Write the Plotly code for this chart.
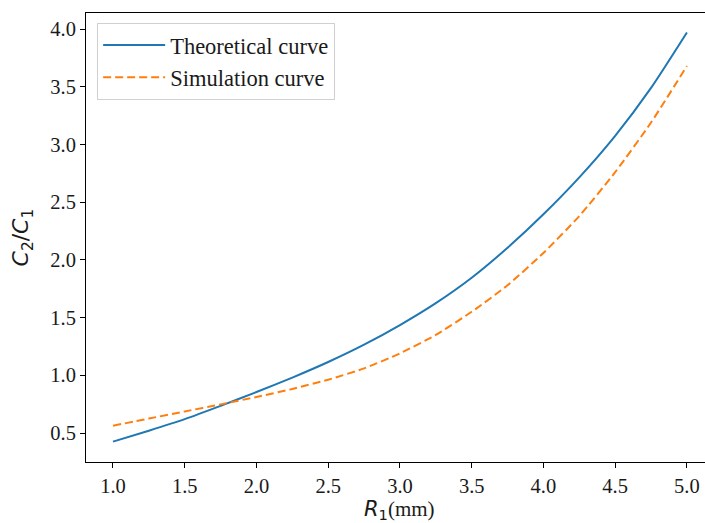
import plotly.graph_objects as go

# Data
r1_mm = [1.0, 1.25, 1.5, 1.75, 2.0, 2.25, 2.5, 2.75, 3.0, 3.25, 3.5, 3.75, 4.0, 4.25, 4.5, 4.75, 5.0]
theoretical = [0.425, 0.52, 0.62, 0.735, 0.855, 0.98, 1.115, 1.265, 1.435, 1.625, 1.845, 2.105, 2.395, 2.715, 3.075, 3.49, 3.97]
simulation = [0.563, 0.625, 0.687, 0.748, 0.812, 0.882, 0.962, 1.06, 1.19, 1.35, 1.55, 1.78, 2.06, 2.38, 2.76, 3.19, 3.68]
x_ticks = [1.0, 1.5, 2.0, 2.5, 3.0, 3.5, 4.0, 4.5, 5.0]
y_ticks = [0.5, 1.0, 1.5, 2.0, 2.5, 3.0, 3.5, 4.0]
x_label = "<span style='font-family:DejaVu Sans;font-style:italic'>R</span><sub><span style='font-family:DejaVu Sans'>1</span></sub>(mm)"
y_label = "<i>C</i><sub>2</sub>/<i>C</i><sub>1</sub>"

SERIF = "Liberation Serif, Times New Roman, serif"
SANS = "DejaVu Sans, sans-serif"

fig = go.Figure()
fig.add_trace(go.Scatter(
    x=r1_mm, y=theoretical, mode="lines", name="Theoretical curve",
    line=dict(color="#1f77b4", width=2, shape="spline", smoothing=0.6),
))
fig.add_trace(go.Scatter(
    x=r1_mm, y=simulation, mode="lines", name="Simulation curve",
    line=dict(color="#ff7f0e", width=2, dash="8px,4px", shape="spline", smoothing=0.6),
))

fig.update_layout(
    width=705, height=523,
    margin=dict(l=86, r=0, t=13, b=61),
    paper_bgcolor="white", plot_bgcolor="white",
    font=dict(family=SERIF, size=20, color="black"),
    showlegend=True,
    legend=dict(
        x=0.018, y=0.978, xanchor="left", yanchor="top",
        bgcolor="white", bordercolor="#d0d0d0", borderwidth=1,
        font=dict(family=SERIF, size=22.5, color="#1a1a1a"),
        itemwidth=62, tracegroupgap=0,
    ),
    annotations=[
        dict(text=x_label, xref="paper", yref="paper", x=0.507, y=-0.107,
             xanchor="center", yanchor="middle", showarrow=False,
             font=dict(family=SERIF, size=21, color="#1a1a1a")),
        dict(text=y_label, xref="paper", yref="paper", x=-0.1018, y=0.5,
             xanchor="center", yanchor="middle", showarrow=False, textangle=-90,
             font=dict(family=SANS, size=22, color="#1a1a1a")),
    ],
)

fig.update_xaxes(
    range=[0.812, 5.126], tickvals=x_ticks, ticktext=[f"{v:.1f}" for v in x_ticks],
    showgrid=False, zeroline=False, showline=True, linecolor="black", linewidth=1,
    mirror=True, ticks="outside", ticklen=5, tickwidth=1, tickcolor="black",
    tickfont=dict(family=SERIF, size=20.5, color="#1a1a1a"),
)
fig.update_yaxes(
    range=[0.2488, 4.1386], tickvals=y_ticks, ticktext=[f"{v:.1f}" for v in y_ticks],
    showgrid=False, zeroline=False, showline=True, linecolor="black", linewidth=1,
    mirror=False, ticks="outside", ticklen=5, tickwidth=1, tickcolor="black",
    tickfont=dict(family=SERIF, size=20.5, color="#1a1a1a"),
)

fig.write_html("out.html")
